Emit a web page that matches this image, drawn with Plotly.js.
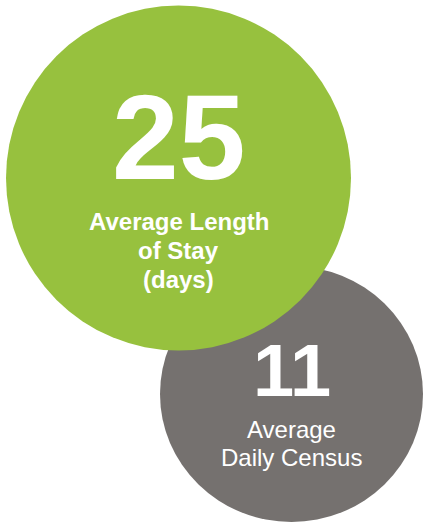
<!DOCTYPE html>
<html>
<head>
<meta charset="utf-8">
<script src="https://cdn.plot.ly/plotly-3.0.1.min.js"></script>
<style>html,body{margin:0;padding:0;background:#fff;}#chart{width:424px;height:523px;}</style>
</head>
<body>
<div id="chart"></div>
<script>
// Data
var metricValues = [25, 11];
var metricLabels = [["Average Length", "of Stay", "(days)"], ["Average", "Daily Census"]];
var metricColors = ["#97c13e", "#75716f"];

// Layout geometry (in pixel-like axis units)
var circles = [
  {cx: 178.5, cy: 178, rx: 172.5, ry: 172.5},
  {cx: 291.5, cy: 394, rx: 131.5, ry: 128}
];
var numberY = [137, 370];
var labelFirstY = [221, 429];
var labelLineGap = [29, 28];
var numberSize = [120, 74];
var labelSize = [24, 24];
var labelWeight = ["bold", "normal"];

var shapes = [];
// draw gray first (behind), then green
[1, 0].forEach(function (i) {
  var c = circles[i];
  shapes.push({
    type: "circle", xref: "x", yref: "y",
    x0: c.cx - c.rx, x1: c.cx + c.rx, y0: c.cy - c.ry, y1: c.cy + c.ry,
    fillcolor: metricColors[i], line: {width: 0}, layer: "below"
  });
});

var fontFamily = "Liberation Sans, Arial, sans-serif";
var annotations = [];
metricValues.forEach(function (v, i) {
  annotations.push({
    x: circles[i].cx, y: numberY[i], xref: "x", yref: "y",
    text: String(v), showarrow: false, xanchor: "center", yanchor: "middle",
    font: {family: fontFamily, size: numberSize[i], color: "#ffffff", weight: "bold"}
  });
  metricLabels[i].forEach(function (line, j) {
    annotations.push({
      x: circles[i].cx, y: labelFirstY[i] + j * labelLineGap[i], xref: "x", yref: "y",
      text: line, showarrow: false, xanchor: "center", yanchor: "middle",
      font: {family: fontFamily, size: labelSize[i], color: "#ffffff", weight: labelWeight[i]}
    });
  });
});

var layout = {
  width: 424, height: 523,
  margin: {l: 0, r: 0, t: 0, b: 0},
  paper_bgcolor: "#ffffff", plot_bgcolor: "#ffffff",
  xaxis: {range: [0, 424], visible: false, fixedrange: true},
  yaxis: {range: [523, 0], visible: false, fixedrange: true},
  shapes: shapes,
  annotations: annotations,
  showlegend: false
};

Plotly.newPlot("chart", [{x: [], y: [], type: "scatter", mode: "markers", hoverinfo: "skip"}], layout, {staticPlot: true, displayModeBar: false});
</script>
</body>
</html>
